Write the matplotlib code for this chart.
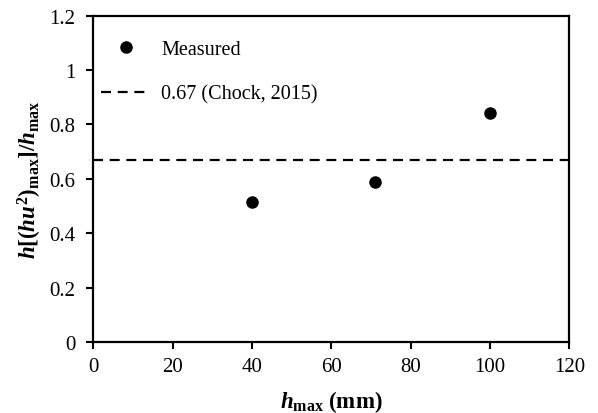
import matplotlib
matplotlib.use('Agg')
import matplotlib.pyplot as plt

plt.rcParams['font.family'] = 'Liberation Serif'
plt.rcParams['mathtext.fontset'] = 'custom'
plt.rcParams['mathtext.rm'] = 'Liberation Serif:bold'
plt.rcParams['mathtext.it'] = 'Liberation Serif:bold:italic'
plt.rcParams['mathtext.bf'] = 'Liberation Serif:bold'

# measured data
h_max = [40, 71, 100]
ratio = [0.515, 0.588, 0.842]
chock_ratio = 0.67

fig = plt.figure(figsize=(5.98, 4.14), dpi=100)
ax = fig.add_axes([0.156, 0.171, 0.796, 0.789])

ax.plot(h_max, ratio, 'o', color='black', markersize=8, label='Measured')
ax.axhline(chock_ratio, color='black', lw=1.6, ls=(0, (4.5, 3)), label='0.67 (Chock, 2015)')

ax.set_xlim(0, 120)
ax.set_ylim(0, 1.2)
ax.set_xticks(range(0, 121, 20))
ax.set_yticks([0, 0.2, 0.4, 0.6, 0.8, 1.0, 1.2])
ax.set_yticklabels(['0', '0.2', '0.4', '0.6', '0.8', '1', '1.2'])
ax.tick_params(axis='both', direction='out', length=5, width=1.5, labelsize=15,
               top=False, right=False)
ax.tick_params(axis='x', pad=5.5)
ax.tick_params(axis='y', pad=8)
for s in ax.spines.values():
    s.set_linewidth(1.6)

ax.set_xlabel(r'$h_{\mathrm{max}}$ (mm)', fontsize=16.5, fontweight='bold', labelpad=9)
ax.set_ylabel(r'$h[(hu^2)_{\mathrm{max}}]/h_{\mathrm{max}}$', fontsize=16.5, labelpad=4)

ax.legend(loc='upper left', bbox_to_anchor=(0.016, 0.925), frameon=False, fontsize=14.5,
          handlelength=2.5, handletextpad=0.5, borderaxespad=0, borderpad=0,
          labelspacing=1.25)

fig.savefig('out.png', dpi=100)
